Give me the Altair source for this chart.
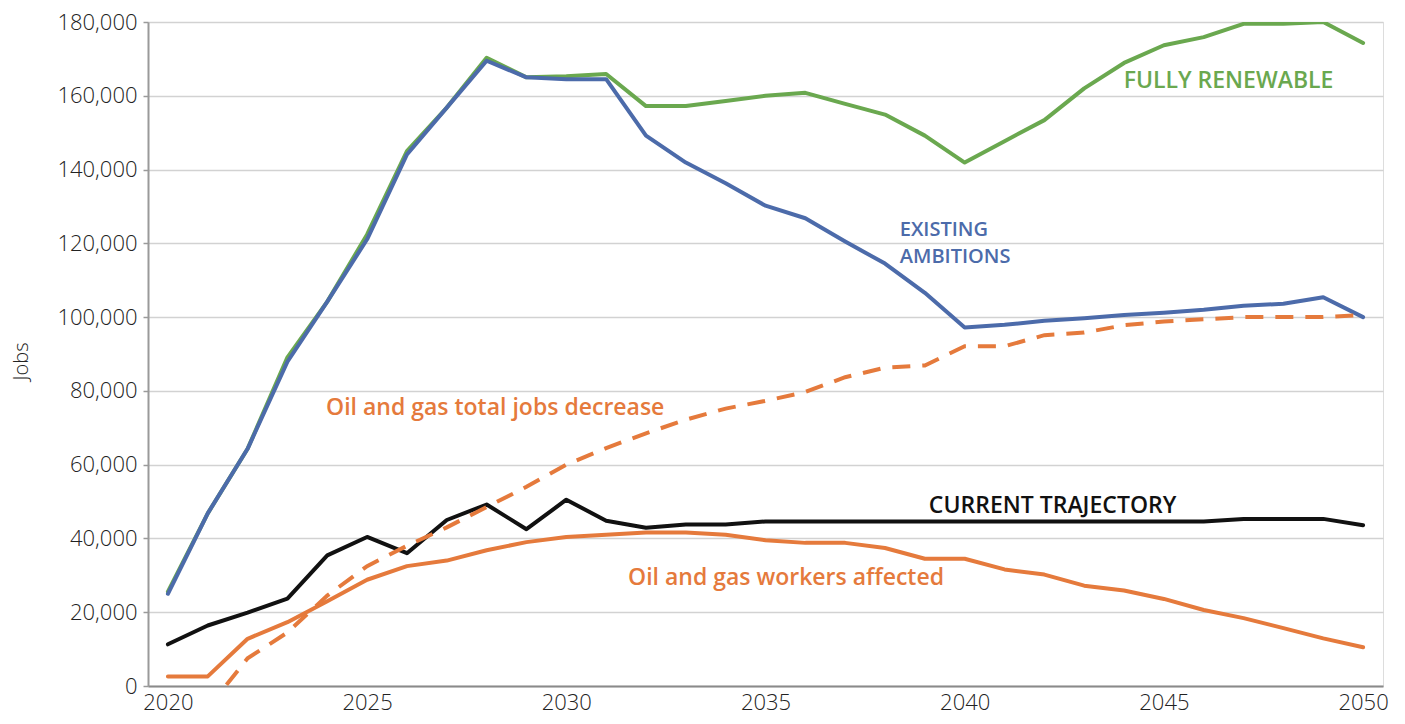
import altair as alt
import pandas as pd

years = list(range(2020, 2051))

fully_renewable = [25600, 46800, 64300, 89100, 104200, 122400, 145000, 156800, 170300, 165000,
                   165300, 165900, 157200, 157200, 158600, 160000, 160800, 157800, 154900, 149200,
                   141900, 147700, 153400, 162000, 168900, 173700, 175900, 179500, 179500, 180000,
                   174300]
existing_ambitions = [25000, 46800, 64300, 87900, 104200, 121100, 144100, 156800, 169500, 165000,
                      164500, 164500, 149200, 141900, 136300, 130200, 126800, 120500, 114500, 106600,
                      97200, 97900, 99000, 99700, 100600, 101200, 102000, 103100, 103600, 105400,
                      100000]
current_trajectory = [11300, 16400, 19900, 23700, 35400, 40400, 36000, 45000, 49200, 42500,
                      50500, 44800, 42900, 43800, 43800, 44600, 44600, 44600, 44600, 44600,
                      44600, 44600, 44600, 44600, 44600, 44600, 44600, 45300, 45300, 45300,
                      43600]
workers_affected = [2600, 2600, 12800, 17300, 23000, 28800, 32500, 34000, 36800, 39000,
                    40400, 41000, 41600, 41600, 41000, 39500, 38800, 38800, 37400, 34500,
                    34500, 31600, 30200, 27200, 25900, 23600, 20600, 18400, 15700, 12900,
                    10500]
total_decrease = [None, -6000, 7500, 14500, 24500, 32500, 38000, 43000, 48500, 54000,
                  60000, 64500, 68500, 72200, 75200, 77300, 79700, 83700, 86300, 86900,
                  92100, 92100, 95100, 95800, 97800, 98800, 99400, 100000, 100000, 100000,
                  100600]

series_names = ["Fully renewable", "Existing ambitions", "Current trajectory", "Workers affected"]
series_colors = ["#6AA84F", "#4C6BAA", "#111111", "#E57A3C"]

rows = []
for name, vals in zip(series_names, [fully_renewable, existing_ambitions, current_trajectory, workers_affected]):
    for yr, v in zip(years, vals):
        rows.append({"year": yr, "jobs": v, "series": name})
solid_df = pd.DataFrame(rows)

dash_df = pd.DataFrame({"year": years, "jobs": total_decrease}).dropna()

ann_text = ["FULLY RENEWABLE", "EXISTING", "AMBITIONS", "Oil and gas total jobs decrease",
            "CURRENT TRAJECTORY", "Oil and gas workers affected"]
ann_year = [2043.99, 2038.37, 2038.37, 2023.97, 2039.1, 2031.55]
ann_jobs = [164000, 123500, 116300, 75300, 48700, 29200]
ann_size = [23, 20, 20, 23, 23, 23]
ann_color = ["#6AA84F", "#4C6BAA", "#4C6BAA", "#E57A3C", "#111111", "#E57A3C"]
ann_df = pd.DataFrame({"text": ann_text, "year": ann_year, "jobs": ann_jobs,
                       "size": ann_size, "color": ann_color})

x_scale = alt.Scale(domain=[2019.5, 2050.5], nice=False, zero=False)
y_scale = alt.Scale(domain=[0, 180000], nice=False)

x_axis = alt.Axis(values=[2020, 2025, 2030, 2035, 2040, 2045, 2050], format="d", title=None,
                  grid=False, ticks=False, domainColor="#8a8a8a", domainWidth=2,
                  labelFont="Open Sans", labelFontSize=22, labelFontWeight=300, labelColor="#222222",
                  labelPadding=6)
y_axis = alt.Axis(values=list(range(0, 180001, 20000)), format=",d", title="Jobs",
                  grid=True, gridColor="#d2d2d2", gridWidth=1.5,
                  ticks=True, tickSize=5, tickColor="#9a9a9a", tickWidth=1.5,
                  domainColor="#9a9a9a", domainWidth=2,
                  labelFont="Open Sans", labelFontSize=22, labelFontWeight=300, labelColor="#222222",
                  labelPadding=6,
                  titleFont="Open Sans", titleFontSize=20, titleFontWeight=300, titleColor="#222222",
                  titleAngle=-90, titleX=-127, titleY=339, titleAlign="center", titleBaseline="middle")

solid = alt.Chart(solid_df).mark_line(strokeWidth=4, strokeCap="round", strokeJoin="round", clip=True).encode(
    x=alt.X("year:Q", scale=x_scale, axis=x_axis),
    y=alt.Y("jobs:Q", scale=y_scale, axis=y_axis),
    color=alt.Color("series:N", scale=alt.Scale(domain=series_names, range=series_colors), legend=None),
    order=alt.Order("year:Q"),
    detail="series:N",
)

dashed = alt.Chart(dash_df).mark_line(strokeWidth=4, strokeDash=[18, 12], color="#E57A3C", clip=True).encode(
    x=alt.X("year:Q", scale=x_scale),
    y=alt.Y("jobs:Q", scale=y_scale),
)

labels = alt.Chart(ann_df).mark_text(align="left", baseline="middle", font="Open Sans",
                                     fontWeight=600).encode(
    x=alt.X("year:Q", scale=x_scale),
    y=alt.Y("jobs:Q", scale=y_scale),
    text="text:N",
    size=alt.Size("size:Q", scale=None, legend=None),
    color=alt.Color("color:N", scale=None),
)

chart = alt.layer(solid, dashed, labels).properties(
    width=1235, height=664,
    autosize=alt.AutoSizeParams(type="none"),
    padding={"left": 140, "top": 14, "right": 12, "bottom": 28},
).configure_view(stroke=None).configure(background="white")

chart.save("out.html", embed_options={"renderer": "svg", "actions": False})
